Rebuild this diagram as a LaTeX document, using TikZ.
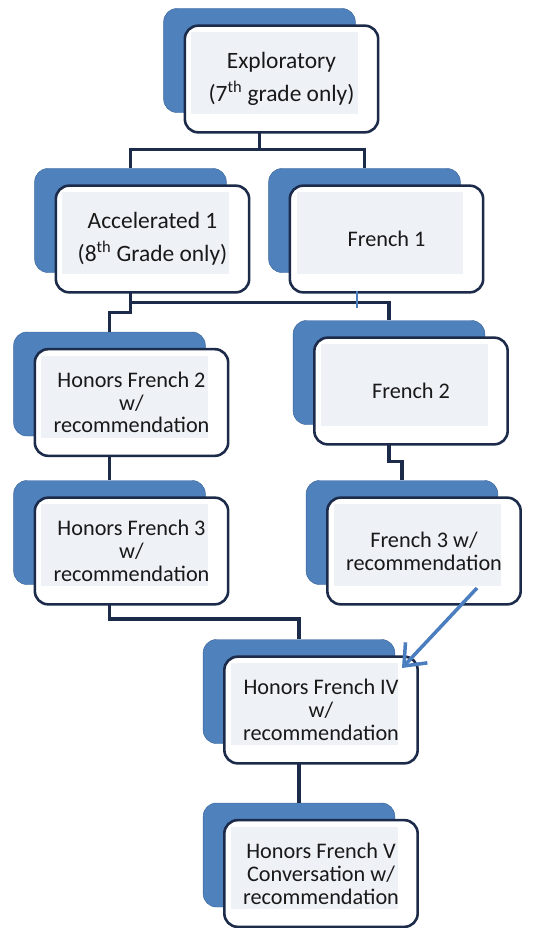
\documentclass[tikz,border=0pt]{standalone}
\usepackage{fontspec}
\setmainfont{Carlito}
\usepackage{xcolor}
\usepackage{tikz}
\usetikzlibrary{arrows.meta}
\usetikzlibrary{calc}
\definecolor{boxblue}{HTML}{4F81BD}
\definecolor{boxedge}{HTML}{3A6599}
\definecolor{navy}{HTML}{1C2B4A}
\definecolor{paneltint}{HTML}{EEF1F6}
\definecolor{arrowblue}{HTML}{4A7EBF}
\tikzset{
    back_box/.style = {rectangle, rounded corners=0.4cm, draw=boxedge, fill=boxblue, minimum width=5.75cm, minimum height=3.12cm, thin},
    front_box/.style = {rectangle, rounded corners=0.4cm, draw=navy, fill=white, line width=2.2pt, minimum width=5.8cm, minimum height=3.2cm,
        align=center, inner sep=0pt, text=black!90, font=\fontsize{19}{19.5}\selectfont,
        path picture={\fill[paneltint, sharp corners] ([shift={(0.2cm,-0.2cm)}]path picture bounding box.north west) rectangle ([shift={(-0.6cm,0.55cm)}]path picture bounding box.south east);}},
    wide_lines/.style = {font=\fontsize{20}{28}\selectfont},
    link/.style = {draw=navy, line width=3pt}
}

\begin{document}
\begin{tikzpicture}[x=0.03cm, y=-0.03cm, >={Straight Barb[length=0.55cm, width=0.9cm]}]
    \useasboundingbox (0,0) rectangle (542,928);
    % back panels
    \node [back_box] (explore_b) at (259.5,60.5) {};
    \node [back_box] (accel_b) at (130.5,220.5) {};
    \node [back_box] (french_one_b) at (364.5,220.5) {};
    \node [back_box] (honors_two_b) at (109.5,384) {};
    \node [back_box] (french_two_b) at (389,372.5) {};
    \node [back_box] (honors_three_b) at (109.5,532.5) {};
    \node [back_box] (french_three_b) at (402,532.5) {};
    \node [back_box] (honors_four_b) at (299,691.5) {};
    \node [back_box] (honors_five_b) at (299,855) {};
    % connectors
    \draw [link] (explore_b.south) -- ++(0,37) -| (accel_b.north);
    \draw [link] (explore_b.south) -- ++(0,37) -| (french_one_b.north);
    \draw [link] (accel_b.south) -- ++(0,30) -| (french_two_b.north);
    \draw [link] (accel_b.south) -- ++(0,40) -| (honors_two_b.north);
    \draw [link] (honors_two_b.south) -- (honors_three_b.north);
    \draw [link] (french_two_b.south) -- ++(0,37) -| (french_three_b.north);
    \draw [link] (honors_three_b.south) -- ++(0,34) -| (honors_four_b.north);
    \draw [link] (honors_four_b.south) -- (honors_five_b.north);
    % front panels
    \node [front_box, wide_lines] (explore) at ($(explore_b)+(22,18.5)$) {Exploratory\\(7\textsuperscript{th} grade only)};
    \node [front_box, wide_lines] (accel) at ($(accel_b)+(22,18.5)$) {Accelerated 1\\(8\textsuperscript{th} Grade only)};
    \node [front_box] (french_one) at ($(french_one_b)+(22,18.5)$) {French 1};
    \node [front_box] (honors_two) at ($(honors_two_b)+(22,18.5)$) {Honors French 2\\w/\\recommendation};
    \node [front_box] (french_two) at ($(french_two_b)+(22,18.5)$) {French 2};
    \node [front_box] (honors_three) at ($(honors_three_b)+(22,18.5)$) {Honors French 3\\w/\\recommendation};
    \node [front_box] (french_three) at ($(french_three_b)+(22,18.5)$) {French 3 w/\\recommendation};
    \node [front_box] (honors_four) at ($(honors_four_b)+(22,18.5)$) {Honors French IV\\w/\\recommendation};
    \node [front_box] (honors_five) at ($(honors_five_b)+(22,18.5)$) {Honors French V\\Conversation w/\\recommendation};
    % blue marks
    \draw [arrowblue, line width=2pt] ($(french_one.south)+(-29.5,-3)$) -- ++(0,17);
    \draw [arrowblue, line width=3pt, ->] ($(french_three)+(53,37)$) -- ($(honors_four)+(81,-42)$);
\end{tikzpicture}
\end{document}
